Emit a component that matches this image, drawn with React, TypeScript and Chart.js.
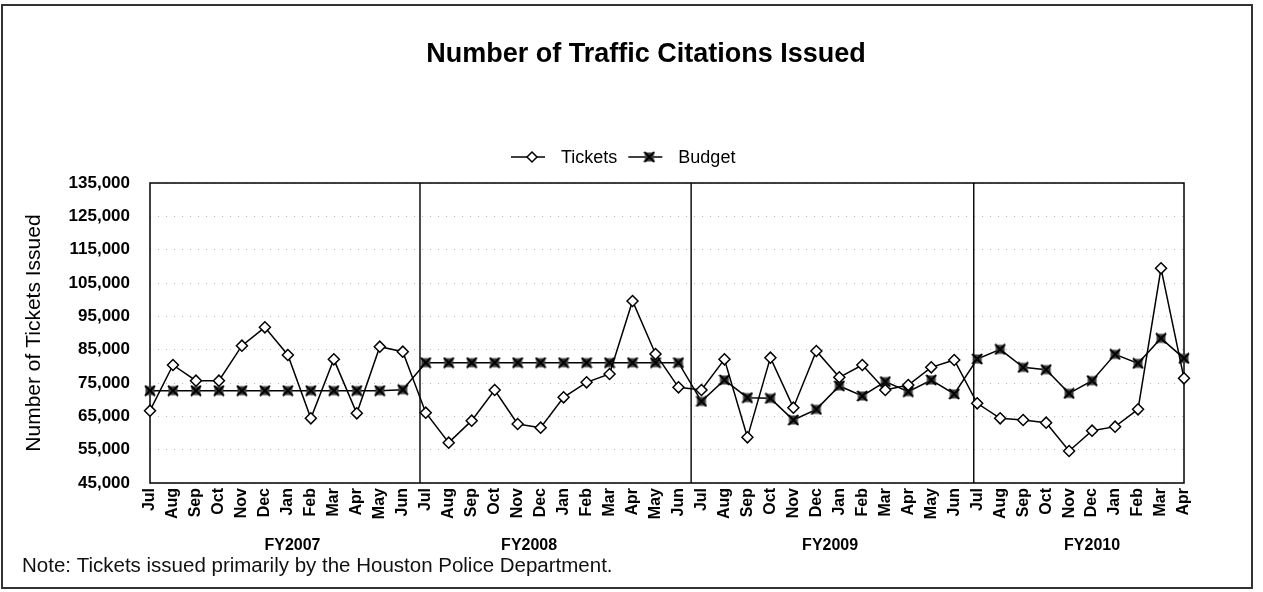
import React, { useEffect, useRef } from "react";
import { Chart, registerables } from "chart.js";

Chart.register(...registerables);

const months = ["Jul", "Aug", "Sep", "Oct", "Nov", "Dec", "Jan", "Feb", "Mar", "Apr", "May", "Jun"];
const categories = [...months, ...months, ...months, ...months.slice(0, 10)];
const fiscalYears = ["FY2007", "FY2008", "FY2009", "FY2010"];
const yTicks = [45000, 55000, 65000, 75000, 85000, 95000, 105000, 115000, 125000, 135000];

const tickets = [
  66700, 80400, 75700, 75700, 86200, 91700, 83400, 64400, 82100, 65900, 85900, 84400,
  66100, 57100, 63700, 72900, 62700, 61600, 70700, 75200, 77700, 99600, 83700, 73700,
  72900, 82100, 58700, 82600, 67600, 84600, 76700, 80400, 72900, 74400, 79700, 81900,
  68900, 64400, 63900, 63100, 54600, 60700, 61900, 67100, 109400, 76400,
];
const budget = [
  72700, 72700, 72700, 72700, 72700, 72700, 72700, 72700, 72700, 72700, 72700, 73000,
  81100, 81100, 81100, 81100, 81100, 81100, 81100, 81100, 81100, 81100, 81100, 81100,
  69500, 75900, 70600, 70400, 63900, 67100, 74100, 71100, 75400, 72400, 75900, 71700,
  82200, 85100, 79700, 79000, 71900, 75700, 83600, 80900, 88400, 82400,
];

const TITLE = "Number of Traffic Citations Issued";
const NOTE = "Note: Tickets issued primarily by the Houston Police Department.";
const Y_TITLE = "Number of Tickets Issued";

const FONT = "'Liberation Sans', Arial, sans-serif";

function makeBudgetMarker(): HTMLCanvasElement {
  const c = document.createElement("canvas");
  c.width = 12;
  c.height = 12;
  const g = c.getContext("2d")!;
  g.fillStyle = "#404040";
  g.fillRect(1.5, 1.5, 9, 9);
  g.strokeStyle = "#000";
  g.lineWidth = 2;
  g.beginPath();
  g.moveTo(1, 1);
  g.lineTo(11, 11);
  g.moveTo(11, 1);
  g.lineTo(1, 11);
  g.stroke();
  return c;
}

function drawDiamond(ctx: CanvasRenderingContext2D, x: number, y: number, r: number) {
  ctx.beginPath();
  ctx.moveTo(x, y - r);
  ctx.lineTo(x + r, y);
  ctx.lineTo(x, y + r);
  ctx.lineTo(x - r, y);
  ctx.closePath();
  ctx.fillStyle = "#fff";
  ctx.fill();
  ctx.lineWidth = 1.5;
  ctx.strokeStyle = "#000";
  ctx.stroke();
}

export default function App() {
  const ref = useRef<HTMLCanvasElement | null>(null);

  useEffect(() => {
    const canvas = ref.current;
    if (!canvas) return;
    const budgetMarker = makeBudgetMarker();

    const decorations = {
      id: "decorations",
      beforeDatasetsDraw(chart: any) {
        const { ctx, chartArea } = chart;
        const x = chart.scales.x;
        ctx.save();
        ctx.strokeStyle = "#000";
        ctx.lineWidth = 1.5;
        ctx.strokeRect(chartArea.left, chartArea.top, chartArea.right - chartArea.left, chartArea.bottom - chartArea.top);
        const dividers = [11.75, 23.55, 35.85];
        ctx.lineWidth = 1.4;
        dividers.forEach((d) => {
          const px = x.getPixelForValue(d);
          ctx.beginPath();
          ctx.moveTo(px, chartArea.top);
          ctx.lineTo(px, chartArea.bottom);
          ctx.stroke();
        });
        ctx.restore();
      },
      afterDraw(chart: any) {
        const { ctx } = chart;
        const x = chart.scales.x;
        ctx.save();
        // outer frame
        ctx.strokeStyle = "#333";
        ctx.lineWidth = 2;
        ctx.strokeRect(2, 5, 1250, 583);
        // title
        ctx.fillStyle = "#000";
        ctx.textAlign = "center";
        ctx.textBaseline = "middle";
        ctx.font = `bold 27px ${FONT}`;
        ctx.fillText(TITLE, 646, 55);
        // legend
        ctx.font = `18px ${FONT}`;
        const items = chart.data.datasets.map((d: any) => d.label);
        const lineLen = 34;
        const gap = 16;
        const spacing = 11;
        const widths = items.map((t: string) => lineLen + gap + ctx.measureText(t).width);
        let lx = 511;
        const ly = 157;
        ctx.textAlign = "left";
        items.forEach((t: string, i: number) => {
          ctx.strokeStyle = "#000";
          ctx.lineWidth = 1.5;
          ctx.beginPath();
          ctx.moveTo(lx, ly);
          ctx.lineTo(lx + lineLen, ly);
          ctx.stroke();
          if (i === 0) drawDiamond(ctx, lx + lineLen / 2 + 4, ly, 5);
          else ctx.drawImage(budgetMarker, lx + lineLen / 2 + 4 - 6, ly - 6);
          ctx.fillStyle = "#000";
          ctx.fillText(t, lx + lineLen + gap, ly + 1);
          lx += widths[i] + spacing;
        });
        // fiscal year labels
        ctx.font = `bold 16px ${FONT}`;
        ctx.textAlign = "center";
        const fyPos = [6.2, 16.5, 29.6, 41.0];
        fiscalYears.forEach((fy, i) => {
          ctx.fillText(fy, x.getPixelForValue(fyPos[i]), 546);
        });
        // note
        ctx.font = `20.5px ${FONT}`;
        ctx.textAlign = "left";
        ctx.fillStyle = "#111";
        ctx.fillText(NOTE, 22, 566);
        ctx.restore();
      },
    };

    const chart = new Chart(canvas, {
      type: "line",
      data: {
        labels: categories,
        datasets: [
          {
            label: "Tickets",
            data: tickets,
            borderColor: "#000",
            borderWidth: 1.5,
            pointStyle: "rectRot",
            pointRadius: 5.5,
            pointBackgroundColor: "#fff",
            pointBorderColor: "#000",
            pointBorderWidth: 1.5,
            tension: 0,
            clip: false as any,
          },
          {
            label: "Budget",
            data: budget,
            borderColor: "#000",
            borderWidth: 1.5,
            pointStyle: budgetMarker as any,
            pointRadius: 6,
            tension: 0,
            clip: false as any,
          },
        ],
      },
      options: {
        animation: false,
        responsive: true,
        maintainAspectRatio: false,
        layout: { padding: { top: 183, right: 79, bottom: 0, left: 0 } },
        plugins: {
          legend: { display: false },
          title: { display: false },
          tooltip: { enabled: false },
        },
        scales: {
          x: {
            type: "category",
            offset: false,
            grid: { display: false, drawTicks: false },
            border: { display: false },
            ticks: {
              autoSkip: false,
              minRotation: 90,
              maxRotation: 90,
              padding: 5,
              color: "#000",
              font: { family: FONT, size: 16, weight: "bold" },
            },
            afterFit(scale: any) {
              scale.height = 109;
            },
          },
          y: {
            min: 45000,
            max: 135000,
            afterBuildTicks(scale: any) {
              scale.ticks = yTicks.map((v) => ({ value: v }));
            },
            grid: { color: "#b8b8b8", lineWidth: 1, drawTicks: false },
            border: { display: false, dash: [1, 7] },
            ticks: {
              padding: 20,
              color: "#000",
              font: { family: FONT, size: 17, weight: "bold" },
              callback: (v: any) => Number(v).toLocaleString("en-US"),
            },
            title: {
              display: true,
              text: Y_TITLE,
              color: "#000",
              font: { family: FONT, size: 21 },
              padding: { top: 22, bottom: 0 },
            },
            afterFit(scale: any) {
              scale.width = 150;
            },
          },
        },
      },
      plugins: [decorations],
    });

    return () => chart.destroy();
  }, []);

  return (
    <div style={{ position: "fixed", left: 0, top: 0, width: 1263, height: 592, background: "#fff" }}>
      <canvas ref={ref} />
    </div>
  );
}
